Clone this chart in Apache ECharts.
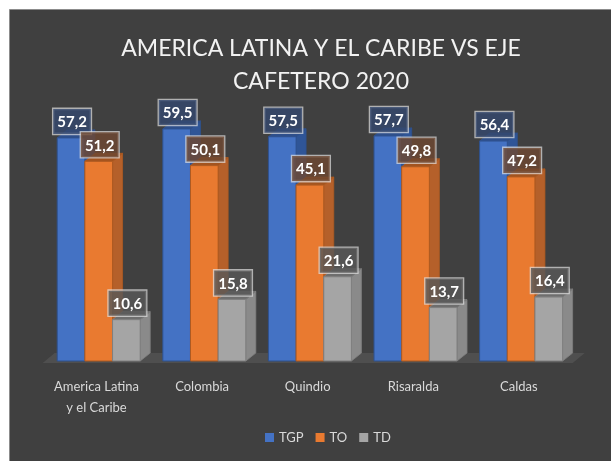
<!DOCTYPE html>
<html>
<head>
<meta charset="utf-8">
<script src="https://cdn.jsdelivr.net/npm/echarts@6/dist/echarts.min.js"></script>
<style>
html,body{margin:0;padding:0;background:#fff;}
#chart{width:611px;height:461px;}
</style>
</head>
<body>
<div id="chart"></div>
<script>
var categories = ['America Latina\ny el Caribe', 'Colombia', 'Quindio', 'Risaralda', 'Caldas'];
var seriesNames = ['TGP', 'TO', 'TD'];
var tgp = [57.2, 59.5, 57.5, 57.7, 56.4];
var to = [51.2, 50.1, 45.1, 49.8, 47.2];
var td = [10.6, 15.8, 21.6, 13.7, 16.4];

var palette = [
  {front: '#4472c4', side: '#2f5597', top: '#2e4f8c', stroke: '#2f528f', label: 'rgba(52,72,110,0.82)'},
  {front: '#e97a30', side: '#b5602a', top: '#a3541f', stroke: '#ae5a21', label: 'rgba(110,72,50,0.82)'},
  {front: '#a5a5a5', side: '#8a8a8a', top: '#6e6e6e', stroke: '#7f7f7f', label: 'rgba(88,88,88,0.82)'}
];

function fmt(v) { return v.toFixed(1).replace('.', ','); }

function makeRender(i) {
  return function (params, api) {
    var cat = api.value(0), val = api.value(1);
    var top = api.coord([cat, val]);
    var base = api.coord([cat, 0]);
    var band = api.size([1, 0])[0];
    var w = band * 0.262;
    var dx = 10, dy = 8;
    var x0 = top[0] - band * 0.372 + i * w;
    var ty = top[1], by = base[1];
    var c = palette[i];
    return {
      type: 'group',
      children: [
        {type: 'polygon', shape: {points: [[x0 + w, ty], [x0 + w + dx, ty - dy], [x0 + w + dx, by - dy], [x0 + w, by]]},
          style: {fill: c.side, stroke: c.stroke, lineWidth: 0.8}},
        {type: 'polygon', shape: {points: [[x0, ty], [x0 + dx, ty - dy], [x0 + w + dx, ty - dy], [x0 + w, ty]]},
          style: {fill: c.top, stroke: c.stroke, lineWidth: 0.8}},
        {type: 'rect', shape: {x: x0, y: ty, width: w, height: by - ty},
          style: {fill: c.front, stroke: c.stroke, lineWidth: 1}},
        {type: 'text', z2: 100, x: x0 + w / 2 + 1, y: ty - 4,
          style: {text: fmt(val), fill: '#ffffff', font: 'bold 15px Lato', align: 'center', verticalAlign: 'bottom',
            backgroundColor: c.label, borderColor: 'rgba(225,225,225,0.7)', borderWidth: 1.3, padding: [6, 4, 4, 4]}}
      ]
    };
  };
}

function floorRender(params, api) {
  var cs = params.coordSys;
  var by = api.coord([0, 0])[1];
  var x1 = cs.x - 1, x2 = cs.x + cs.width + 1;
  return {
    type: 'polygon', z2: -10,
    shape: {points: [[x1, by + 2], [x1 + 12, by - 8], [x2 + 12, by - 8], [x2, by + 2]]},
    style: {fill: '#4f4f4f'}
  };
}

var valueSets = [tgp, to, td];
var series = [{
  type: 'custom', name: 'floor', data: [[0, 0]], renderItem: floorRender, silent: true, z: 1
}];
valueSets.forEach(function (vals, i) {
  series.push({
    type: 'custom',
    name: seriesNames[i],
    itemStyle: {color: palette[i].front},
    data: vals.map(function (v, k) { return [k, v]; }),
    renderItem: makeRender(i),
    z: 2
  });
});

var chart = echarts.init(document.getElementById('chart'));
chart.setOption({
  backgroundColor: '#ffffff',
  animation: false,
  graphic: [{
    type: 'rect', z: -100, silent: true,
    shape: {x: 9.5, y: 9.5, width: 640, height: 480},
    style: {fill: '#404040', stroke: '#8c8c8c', lineWidth: 1}
  }],
  title: {
    text: 'AMERICA LATINA Y EL CARIBE VS EJE\nCAFETERO 2020',
    left: 316, top: 27, textAlign: 'center',
    textStyle: {color: '#f2f2f2', fontFamily: 'Lato', fontSize: 23, fontWeight: 'normal', lineHeight: 33}
  },
  legend: {
    data: seriesNames,
    left: 260, top: 426,
    icon: 'rect', itemWidth: 9, itemHeight: 9, itemGap: 12,
    textStyle: {color: '#d9d9d9', fontFamily: 'Lato', fontSize: 13}
  },
  grid: {left: 43.7, right: 39.3, top: 88, bottom: 100},
  xAxis: {
    type: 'category', data: categories,
    axisLine: {show: false}, axisTick: {show: false},
    axisLabel: {color: '#d9d9d9', fontFamily: 'Lato', fontSize: 13, lineHeight: 21, margin: 15, interval: 0}
  },
  yAxis: {type: 'value', min: 0, max: 70, show: false, splitLine: {show: false}},
  series: series
});
</script>
</body>
</html>
